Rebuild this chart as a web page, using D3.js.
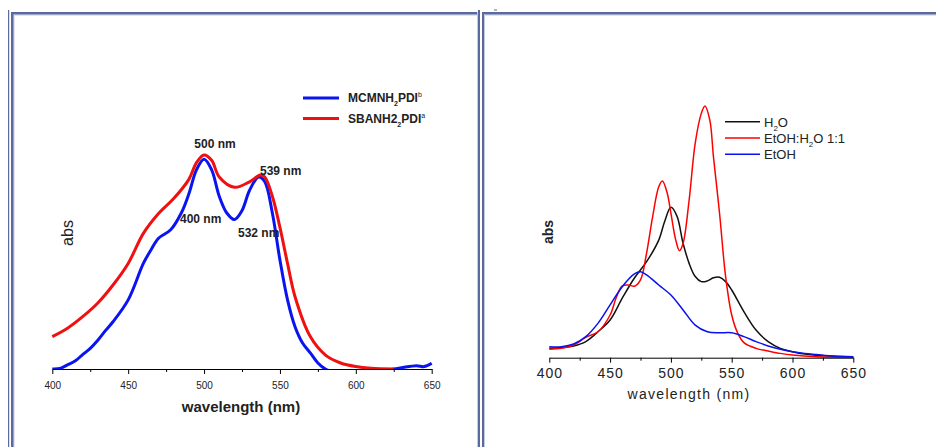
<!DOCTYPE html>
<html>
<head>
<meta charset="utf-8">
<script src="https://cdn.jsdelivr.net/npm/d3@7"></script>
<style>
  body { margin: 0; background: #fff; }
  text { font-family: "Liberation Sans", Arial, sans-serif; }
</style>
</head>
<body>
<div id="chart"></div>
<script>
// ---- data (arbitrary abs units) ----
const leftWl = [400,405,410,415,420,425,430,435,440,450,460,465,470,478,485,490,495,500,505,510,515,520,525,530,536,540,545,550,555,560,565,570,575,580,590,600,610,620,625,630,640,645,650]
const mcmnh = [0,0.002,0.017,0.033,0.06,0.086,0.12,0.16,0.197,0.288,0.44,0.496,0.545,0.58,0.65,0.73,0.83,0.874,0.83,0.72,0.65,0.623,0.66,0.745,0.80,0.78,0.65,0.454,0.288,0.175,0.107,0.067,0.025,0,-0.02,-0.02,-0.02,-0.01,0,0.005,0.014,0.01,0.024]
const sbanWl = [400,410,420,430,440,450,460,470,480,490,495,500,505,510,520,530,537,540,545,550,555,560,570,580,590,600,610,625]
const sban = [0.135,0.17,0.218,0.275,0.35,0.44,0.565,0.648,0.71,0.79,0.86,0.892,0.87,0.80,0.757,0.78,0.808,0.80,0.72,0.59,0.44,0.30,0.135,0.058,0.025,0.01,0.003,0]

const h2oWl = [400,410,420,430,440,450,460,470,480,490,495,500,505,510,515,520,525,530,535,540,545,550,560,570,580,590,600,610,620,630,640,650]
const h2o = [0.039,0.042,0.049,0.067,0.108,0.157,0.248,0.332,0.40,0.49,0.57,0.627,0.59,0.477,0.393,0.338,0.317,0.32,0.333,0.335,0.317,0.282,0.192,0.115,0.067,0.039,0.025,0.015,0.01,0.007,0.004,0.003]
const mixWl = [400,410,420,430,440,450,455,460,465,470,475,480,485,490,493,497,500,504,507,510,515,520,525,528,532,535,540,545,550,555,560,570,580,590,600,620,650]
const mix = [0.035,0.039,0.053,0.085,0.108,0.178,0.25,0.299,0.303,0.298,0.324,0.436,0.588,0.712,0.736,0.685,0.602,0.49,0.446,0.476,0.657,0.894,1.018,1.049,0.99,0.837,0.602,0.338,0.178,0.102,0.063,0.039,0.028,0.018,0.011,0.004,0.002]
const etohWl = [400,410,420,430,440,450,460,470,475,480,490,500,510,520,530,540,550,560,570,580,590,600,610,620,630,640,650]
const etoh = [0.046,0.046,0.057,0.088,0.143,0.22,0.296,0.349,0.358,0.345,0.303,0.261,0.199,0.136,0.108,0.104,0.104,0.088,0.067,0.049,0.035,0.025,0.018,0.013,0.008,0.006,0.004]

const majorTicks = [400,450,500,550,600,650]
const minorTicks = [425,475,525,575,625]

const frameCol = "#5b6a9e"
const haloCol = "#c6cbe0"

const svg = d3.select("#chart").append("svg")
    .attr("width", 936)
    .attr("height", 447)

// frame lines
function vline(x, y0, w, col){
  svg.append("rect").attr("x", x).attr("y", y0).attr("width", w).attr("height", 447 - y0).attr("fill", col)
}
function hline(x0, x1, y, w, col){
  svg.append("rect").attr("x", x0).attr("y", y).attr("width", x1 - x0).attr("height", w).attr("fill", col)
}
hline(11, 479, 14.5, 1, haloCol)
hline(483, 936, 14.5, 1, haloCol)
hline(11, 479, 12, 2.5, frameCol)
hline(483, 936, 12, 2.5, frameCol)
vline(8, 10, 1.2, frameCol)
vline(13.5, 14, 1, haloCol)
vline(11, 12, 2.5, frameCol)
vline(477, 12, 1, haloCol)
vline(478, 10, 2, frameCol)
vline(482, 12, 2, frameCol)
vline(484, 14, 1, haloCol)
svg.append("rect").attr("x", 494).attr("y", 9.5).attr("width", 3).attr("height", 1).attr("fill", frameCol)

function writeText(x, y, rot, str, g, size, weight){
  return g.append("text")
    .attr("transform", `translate(${x},${y}) rotate(${rot})`)
    .attr("text-anchor", "middle")
    .style("font-size", size)
    .style("font-weight", weight || "normal")
    .text(str)
}

function drawAxis(g, x, y0, pad, fontSize, spacing){
  const ax = g.append("g")
    .attr("transform", `translate(0,${y0})`)
    .call(d3.axisBottom(x).tickValues(majorTicks).tickSize(5).tickSizeOuter(0).tickPadding(pad))
  ax.selectAll("text")
    .style("font-size", fontSize)
    .style("font-family", "'Liberation Sans', Arial, sans-serif")
    .style("letter-spacing", spacing)
    .attr("fill", "#222")
  g.append("g")
    .attr("transform", `translate(0,${y0})`)
    .call(d3.axisBottom(x).tickValues(minorTicks).tickSize(3).tickSizeOuter(0).tickFormat(""))
    .select(".domain").remove()
}

// ---- left panel ----
const gL = svg.append("g")
const xL = d3.scaleLinear().domain([400, 650]).range([52.3, 431.7])
const yL = d3.scaleLinear().domain([0, 1]).range([369, 129])

svg.append("clipPath").attr("id", "clipL")
  .append("rect").attr("x", 50).attr("y", 0).attr("width", 384).attr("height", 369)

const lineL = (wl) => d3.line()
  .x((d, i) => xL(wl[i]))
  .y(d => yL(d))
  .curve(d3.curveCatmullRom.alpha(0.5))

gL.append("path").datum(mcmnh)
  .attr("clip-path", "url(#clipL)")
  .attr("d", lineL(leftWl))
  .attr("fill", "none").attr("stroke", "#0a14f0").attr("stroke-width", 3)
gL.append("path").datum(sban)
  .attr("clip-path", "url(#clipL)")
  .attr("d", lineL(sbanWl))
  .attr("fill", "none").attr("stroke", "#f01010").attr("stroke-width", 3)

drawAxis(gL, xL, 369, 7.5, "10px", "0px")
writeText(241, 412, 0, "wavelength (nm)", gL, "15px", "bold").attr("fill", "#222")
writeText(73, 233, -90, "abs", gL, "16px").attr("fill", "#222")

// peak labels
const peakLabels = [["500 nm", 215, 148, "middle"], ["539 nm", 260, 175, "start"], ["400 nm", 180, 223, "start"], ["532 nm", 238, 237, "start"]]
peakLabels.forEach(p => {
  gL.append("text").attr("x", p[1]).attr("y", p[2]).attr("text-anchor", p[3])
    .style("font-size", "12px").style("font-weight", "bold").attr("fill", "#222")
    .text(p[0])
})

// legend left
const legL = [["#0a14f0", "MCMNH", "2", "PDI", "b"], ["#f01010", "SBANH2", "2", "PDI", "a"]]
legL.forEach((l, i) => {
  const yy = 98 + i * 20.5
  gL.append("line").attr("x1", 303).attr("x2", 339).attr("y1", yy).attr("y2", yy)
    .attr("stroke", l[0]).attr("stroke-width", 3)
  const t = gL.append("text").attr("x", 348).attr("y", yy + 4)
    .style("font-size", "12px").style("font-weight", "bold").attr("fill", "#222")
  t.append("tspan").text(l[1])
  t.append("tspan").attr("dy", 4).style("font-size", "7px").text(l[2])
  t.append("tspan").attr("dy", -4).text(l[3])
  t.append("tspan").attr("dy", -5).style("font-size", "7px").style("font-weight", "normal").text(l[4])
})

// ---- right panel ----
const gR = svg.append("g")
const xR = d3.scaleLinear().domain([400, 650]).range([549.3, 853.3])
const yR = d3.scaleLinear().domain([0, 1]).range([357.7, 117.7])

const lineR = (wl) => d3.line()
  .x((d, i) => xR(wl[i]))
  .y(d => yR(d))
  .curve(d3.curveCatmullRom.alpha(0.5))

const seriesR = [[h2o, h2oWl, "#111"], [mix, mixWl, "#f00"], [etoh, etohWl, "#0a10ee"]]
seriesR.forEach(s => {
  gR.append("path").datum(s[0])
    .attr("d", lineR(s[1]))
    .attr("fill", "none").attr("stroke", s[2]).attr("stroke-width", 1.5)
})

drawAxis(gR, xR, 357.7, 5, "14px", "1px")
writeText(689, 399, 0, "wavelength (nm)", gR, "14px").style("letter-spacing", "1.3px").attr("fill", "#222")
writeText(553, 232, -90, "abs", gR, "14px", "bold").attr("fill", "#222")

// legend right
const legR = [["#111", ["H", "2", "O"]], ["#f00", ["EtOH:H", "2", "O 1:1"]], ["#0a10ee", ["EtOH"]]]
legR.forEach((l, i) => {
  const yy = 121.7 + i * 16.3
  gR.append("line").attr("x1", 725).attr("x2", 760).attr("y1", yy).attr("y2", yy)
    .attr("stroke", l[0]).attr("stroke-width", 1.5)
  const t = gR.append("text").attr("x", 764).attr("y", yy + 5)
    .style("font-size", "13px").attr("fill", "#222")
  t.append("tspan").text(l[1][0])
  if(l[1].length > 1){
    t.append("tspan").attr("dy", 4).style("font-size", "8px").text(l[1][1])
    t.append("tspan").attr("dy", -4).text(l[1][2])
  }
})
</script>
</body>
</html>
